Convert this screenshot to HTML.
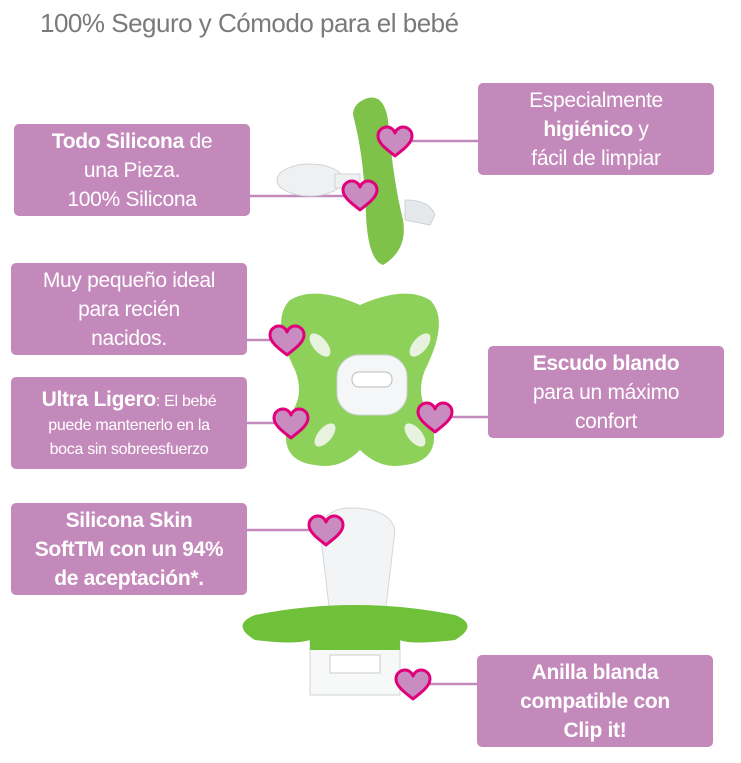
<!DOCTYPE html>
<html><head><meta charset="utf-8"><style>
body{margin:0;width:741px;height:763px;background:#fff;position:relative;overflow:hidden;font-family:"Liberation Sans",sans-serif}
.t{position:absolute;left:40px;top:8px;font-size:26px;color:#7a7a7a;letter-spacing:-0.5px}
.b{position:absolute;width:236px;height:92px;background:#c489bb;border-radius:5px;color:#fff;font-size:21px;line-height:29px;text-align:center;display:flex;align-items:center;justify-content:center;flex-direction:column;letter-spacing:-0.3px}
.b b{font-weight:bold}
.s{font-size:16px;line-height:24px}
svg{position:absolute;left:0;top:0}
</style></head><body>
<div class="t">100% Seguro y Cómodo para el bebé</div>
<svg width="741" height="763">
<g stroke="#c489bb" stroke-width="2.5">
<line x1="250" y1="196" x2="350" y2="196"/><line x1="400" y1="141" x2="478" y2="141"/>
<line x1="247" y1="340" x2="285" y2="340"/><line x1="247" y1="423" x2="290" y2="423"/>
<line x1="435" y1="417" x2="488" y2="417"/><line x1="247" y1="530" x2="325" y2="530"/>
<line x1="413" y1="684" x2="477" y2="684"/>
</g>
<ellipse cx="310" cy="180" rx="33" ry="16" fill="#eef0f2" stroke="#cfd3d6"/>
<rect x="335" y="174" width="25" height="14" fill="#eef0f2" stroke="#cfd3d6"/>
<path d="M405 200 q25 0 30 15 l-5 10 l-25 -5z" fill="#e6e9eb" stroke="#cfd3d6"/>
<path d="M363 100 q20 -10 25 20 q5 60 15 100 q5 30 -20 45 q-15 -5 -17 -50 q-2 -60 -13 -100 q0 -10 10 -15z" fill="#7ec24a"/>
<path d="M290 300 q25 -15 70 5 q45 -20 70 -5 q20 20 -5 70 q-10 25 5 45 q15 45 -25 50 q-25 5 -45 -15 q-20 20 -45 15 q-40 -5 -25 -50 q15 -20 5 -45 q-25 -50 -5 -70z" fill="#8dd05a"/>
<rect x="337" y="355" width="70" height="60" rx="22" fill="#f4f6f7" stroke="#cfd3d6"/>
<rect x="352" y="372" width="40" height="15" rx="7" fill="#fff" stroke="#bbb"/>
<ellipse cx="320" cy="345" rx="7" ry="14" transform="rotate(-40 320 345)" fill="#e8f3df"/>
<ellipse cx="420" cy="345" rx="7" ry="14" transform="rotate(40 420 345)" fill="#e8f3df"/>
<ellipse cx="325" cy="435" rx="7" ry="14" transform="rotate(40 325 435)" fill="#e8f3df"/>
<ellipse cx="415" cy="435" rx="7" ry="14" transform="rotate(-40 415 435)" fill="#e8f3df"/>
<path d="M330 615 l-10 -85 q5 -22 30 -22 q40 0 45 22 l-10 85z" fill="#f3f4f5" stroke="#d4d7da"/>
<path d="M310 640 h90 v55 h-90z" fill="#f7f8f8" stroke="#d0d3d6"/>
<rect x="330" y="655" width="50" height="18" fill="#fff" stroke="#ccc"/>
<path d="M255 615 q100 -20 200 0 q25 10 0 25 q-45 5 -55 0 v10 h-90 v-10 q-15 5 -55 0 q-25 -15 0 -25z" fill="#6fc13a"/>
<g fill="#c98cc0" stroke="#e0007a" stroke-width="3" stroke-linejoin="round">
<path id="h" d="M0 14 C-6 9 -17 2 -17 -6 C-17 -12 -12 -15 -8 -15 C-4 -15 -1 -12 0 -9 C1 -12 4 -15 8 -15 C12 -15 17 -12 17 -6 C17 2 6 9 0 14z" transform="translate(395,142)"/>
<use href="#h" transform="translate(-35,54)"/>
<use href="#h" transform="translate(-108,199)"/>
<use href="#h" transform="translate(-104,282)"/>
<use href="#h" transform="translate(40,276)"/>
<use href="#h" transform="translate(-69,389)"/>
<use href="#h" transform="translate(18,543)"/>
</g>
</svg>
<div class="b" style="left:14px;top:124px"><div><b>Todo Silicona</b> de</div><div>una Pieza.</div><div>100% Silicona</div></div>
<div class="b" style="left:478px;top:83px"><div>Especialmente</div><div><b>higiénico</b> y</div><div>fácil de limpiar</div></div>
<div class="b" style="left:11px;top:263px"><div>Muy pequeño ideal</div><div>para recién</div><div>nacidos.</div></div>
<div class="b" style="left:11px;top:377px"><div><b>Ultra Ligero</b><span class="s">: El bebé</span></div><div class="s">puede mantenerlo en la</div><div class="s">boca sin sobreesfuerzo</div></div>
<div class="b" style="left:488px;top:346px"><div><b>Escudo blando</b></div><div>para un máximo</div><div>confort</div></div>
<div class="b" style="left:11px;top:503px"><div><b>Silicona Skin</b></div><div><b>SoftTM con un 94%</b></div><div><b>de aceptación*.</b></div></div>
<div class="b" style="left:477px;top:655px"><div><b>Anilla blanda</b></div><div><b>compatible con</b></div><div><b>Clip it!</b></div></div>
</body></html>
